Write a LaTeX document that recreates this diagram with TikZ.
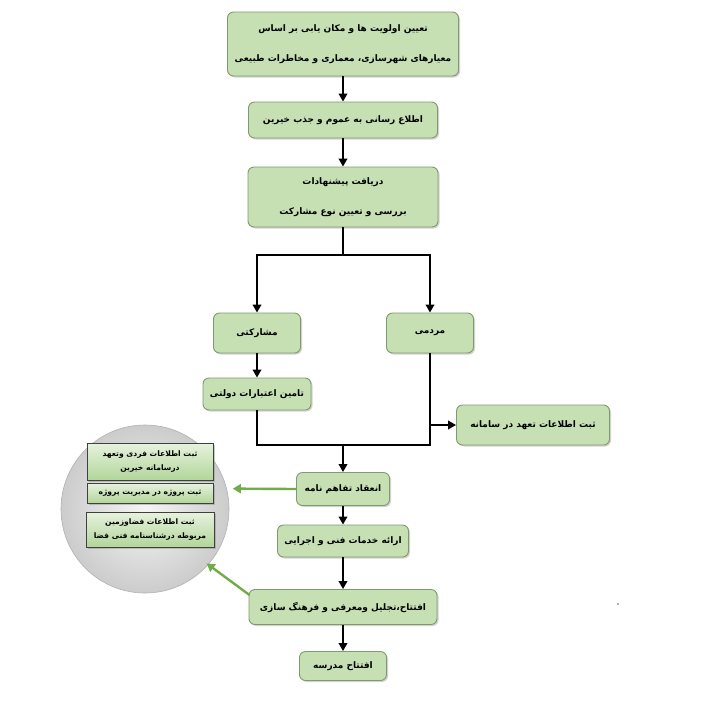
\documentclass[tikz,border=0pt]{standalone}
\usepackage{fontspec}
\usetikzlibrary{shadows,arrows.meta,calc}
\TeXXeTstate=1
\newfontfamily\arabicfont[Script=Arabic]{DejaVu Sans}
\newcommand\RL[1]{\beginR #1\endR}
\definecolor{boxfill}{HTML}{C6E0B4}
\definecolor{boxborder}{HTML}{7F9A6E}
\definecolor{garrow}{HTML}{70AD47}
\definecolor{ifill1}{HTML}{E6F2DE}
\definecolor{ifill2}{HTML}{B2D69A}
\begin{document}
\begin{tikzpicture}[x=1pt,y=-1pt,
  box/.style={draw=boxborder, fill=boxfill, rounded corners=6pt, line width=0.9pt,
    drop shadow={opacity=0.35, shadow xshift=1.5pt, shadow yshift=-1.5pt},
    align=center, inner sep=2pt,
    font=\arabicfont\bfseries\fontsize{9}{30}\selectfont},
  ibox/.style={draw=black!75, line width=0.8pt, top color=ifill1, bottom color=ifill2,
    drop shadow={opacity=0.4, shadow xshift=1.5pt, shadow yshift=-1.5pt},
    align=center, inner sep=1pt,
    font=\arabicfont\bfseries\fontsize{7.6}{14}\selectfont},
  arr/.style={line width=2.4pt, draw=black, -{Triangle[width=8.5pt,length=8pt]}},
  ln/.style={line width=2.4pt, draw=black},
  garr/.style={line width=2.4pt, draw=garrow, -{Triangle[width=9pt,length=8pt]}}]
\useasboundingbox (0,0) rectangle (709,702);
\fill[white] (0,0) rectangle (709,702);

% main boxes
\node[box, minimum width=231pt, minimum height=64pt] (b1) at (343,44)
  {\RL{تعیین اولویت ها و مکان یابی بر اساس}\\\RL{معیارهای شهرسازی، معماری و مخاطرات طبیعی}};
\node[box, minimum width=189pt, minimum height=36pt] (b2) at (343,120)
  {\RL{اطلاع رسانی به عموم و جذب خیرین}};
\node[box, minimum width=190pt, minimum height=60pt] (b3) at (343,197)
  {\RL{دریافت پیشنهادات}\\\RL{بررسی و تعیین نوع مشارکت}};
\node[box, minimum width=87pt, minimum height=40pt] (bl) at (257,333) {\RL{مشارکتی}};
\node[box, minimum width=87pt, minimum height=40pt] (br) at (430,333) {\RL{مردمی}};
\node[box, minimum width=108pt, minimum height=32pt] (tm) at (257,394) {\RL{تامین اعتبارات دولتی}};
\node[box, minimum width=153pt, minimum height=40pt] (rr) at (533,425) {\RL{ثبت اطلاعات تعهد در سامانه}};
\node[box, minimum width=93pt, minimum height=33pt] (b7) at (343,489) {\RL{انعقاد تفاهم نامه}};
\node[box, minimum width=131pt, minimum height=32pt] (b8) at (343,541) {\RL{ارائه خدمات فنی و اجرایی}};
\node[box, minimum width=188pt, minimum height=35pt] (b9) at (343,607) {\RL{افتتاح،تجلیل ومعرفی و فرهنگ سازی}};
\node[box, minimum width=87pt, minimum height=29pt] (b10) at (343,666) {\RL{افتتاح مدرسه}};

% circle
\node[circle, minimum size=168pt, draw=black!30, line width=0.6pt,
  inner color=black!4, outer color=black!20] (circ) at (145,509) {};
\node[ibox, minimum width=126pt, minimum height=37pt] (r1) at (150,461.5)
  {\RL{ثبت اطلاعات فردی وتعهد}\\\RL{درسامانه خیرین}};
\node[ibox, minimum width=126pt, minimum height=20pt] (r2) at (150,493)
  {\RL{ثبت پروژه در مدیریت پروژه}};
\node[ibox, minimum width=128pt, minimum height=35pt] (r3) at (150,529.5)
  {\RL{ثبت اطلاعات فضاوزمین}\\\RL{مربوطه درشناسنامه فنی فضا}};

% connectors
\draw[arr] (b1) -- (b2);
\draw[arr] (b2) -- (b3);
\coordinate (s1) at (343,255);
\draw[ln] (b3.south) -- (s1);
\draw[arr] (s1) -| (bl.north);
\draw[arr] (s1) -| (br.north);
\draw[arr] (bl) -- (tm);
\coordinate (j) at (343,445);
\draw[ln] (tm.south) |- (j);
\draw[ln] (br.south) |- (j);
\draw[arr] (br.south |- rr.west) -- (rr.west);
\draw[arr] (j) -- (b7.north);
\draw[arr] (b7) -- (b8);
\draw[arr] (b8) -- (b9);
\draw[arr] (b9) -- (b10);

% green arrows
\draw[garr] (b7.west) -- ($(circ.14)+(6,0)$);
\draw[garr] ($(b9.north west)+(1,6)$) -- ($(circ.-42)+(-1,-2)$);

% stray dot
\coordinate (dot) at (618,604);
\fill[black!60] (dot) circle (0.8pt);
\end{tikzpicture}
\end{document}
